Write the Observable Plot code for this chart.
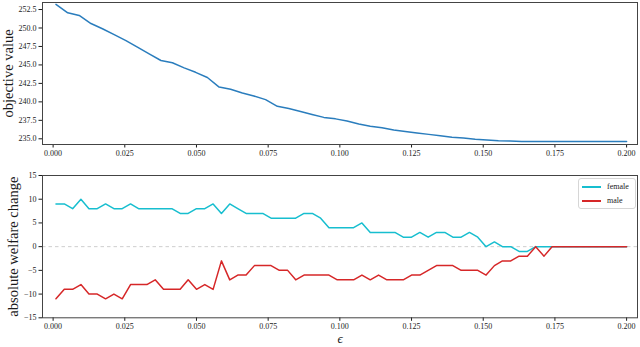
<!DOCTYPE html>
<html><head><meta charset="utf-8">
<script src="https://cdn.jsdelivr.net/npm/d3@7"></script>
<script src="https://cdn.jsdelivr.net/npm/@observablehq/plot@0.6"></script>
<style>
body{margin:0;background:#fff}
#chart{position:relative;width:640px;height:347px;font-family:"Liberation Serif",serif;overflow:hidden}
#chart svg{display:block}
#chart svg text{font-family:"Liberation Serif",serif;fill:#1a1a1a}
g[aria-label="y-axis label"] text{font-size:14.5px;fill:#111}
g[aria-label="x-axis label"] text{font-size:13px;font-style:italic;fill:#111}
.legend{position:absolute;left:578px;top:178px;width:58px;height:31px;border:1px solid #d6d6d6;border-radius:3px;background:#fff;box-sizing:border-box;font-size:8px;color:#1a1a1a}
.legend .item{position:absolute;left:3px;height:10px;line-height:10px;white-space:nowrap}
.legend .sw{display:inline-block;width:19px;height:1.6px;vertical-align:middle;margin-right:6px}
</style></head>
<body><div id="chart"></div>
<script>
// top panel: objective value vs epsilon
const epsTop = [0.0010,0.0051,0.0091,0.0132,0.0172,0.0213,0.0254,0.0294,0.0335,0.0376,0.0416,0.0457,0.0497,0.0538,0.0579,0.0619,0.0660,0.0700,0.0741,0.0782,0.0822,0.0863,0.0903,0.0944,0.0985,0.1025,0.1066,0.1106,0.1147,0.1188,0.1228,0.1269,0.1310,0.1350,0.1391,0.1431,0.1472,0.1513,0.1553,0.1594,0.1634,0.1675,0.1716,0.1756,0.1797,0.1837,0.1878,0.1919,0.1959,0.2000];
const objective = [253.2,252.05,251.7,250.6,249.9,249.1,248.3,247.4,246.5,245.6,245.3,244.6,244.0,243.3,242.0,241.7,241.2,240.8,240.3,239.4,239.1,238.7,238.3,237.9,237.7,237.4,237.0,236.7,236.5,236.2,236.0,235.8,235.6,235.4,235.2,235.1,234.95,234.85,234.75,234.7,234.65,234.65,234.65,234.65,234.65,234.65,234.65,234.65,234.65,234.65];
// bottom panel: absolute welfare change
const epsBottom = [0.0010,0.0039,0.0068,0.0097,0.0125,0.0154,0.0183,0.0212,0.0241,0.0270,0.0298,0.0327,0.0356,0.0385,0.0414,0.0443,0.0471,0.0500,0.0529,0.0558,0.0587,0.0616,0.0644,0.0673,0.0702,0.0731,0.0760,0.0789,0.0818,0.0846,0.0875,0.0904,0.0933,0.0962,0.0991,0.1019,0.1048,0.1077,0.1106,0.1135,0.1164,0.1192,0.1221,0.1250,0.1279,0.1308,0.1337,0.1366,0.1394,0.1423,0.1452,0.1481,0.1510,0.1539,0.1567,0.1596,0.1625,0.1654,0.1683,0.1712,0.1740,0.1769,0.1798,0.1827,0.1856,0.1885,0.1913,0.1942,0.1971,0.2000];
const female = [9,9,8,10,8,8,9,8,8,9,8,8,8,8,8,7,7,8,8,9,7,9,8,7,7,7,6,6,6,6,7,7,6,4,4,4,4,5,3,3,3,3,2,2,3,2,3,3,2,2,3,2,0,1,0,0,-1,-1,0,0,0,0,0,0,0,0,0,0,0,0];
const male = [-11,-9,-9,-8,-10,-10,-11,-10,-11,-8,-8,-8,-7,-9,-9,-9,-7,-9,-8,-9,-3,-7,-6,-6,-4,-4,-4,-5,-5,-7,-6,-6,-6,-6,-7,-7,-7,-6,-7,-6,-7,-7,-7,-6,-6,-5,-4,-4,-4,-5,-5,-5,-6,-4,-3,-3,-2,-2,0,-2,0,0,0,0,0,0,0,0,0,0];
const xTicks = [0,0.025,0.05,0.075,0.1,0.125,0.15,0.175,0.2];
const yTopTicks = [235,237.5,240,242.5,245,247.5,250,252.5];
const yBottomTicks = [-15,-10,-5,0,5,10,15];
const seriesNames = ["female","male"];
const seriesColors = ["#17becf","#d62728"];

const topData = epsTop.map((e,i)=>({eps:e, value:objective[i]}));
const bottomData = [
  ...epsBottom.map((e,i)=>({eps:e, v:female[i], s:"female"})),
  ...epsBottom.map((e,i)=>({eps:e, v:male[i], s:"male"}))
];

const common = {
  width:640, marginLeft:42, marginRight:3,
  style:{fontFamily:"Liberation Serif, serif", fontSize:"8px", background:"transparent", color:"#1a1a1a"}
};
const xDomain = [-0.0037, 0.2038];

const topPlot = Plot.plot({
  ...common, height:160, marginTop:2, marginBottom:16,
  x:{domain:xDomain},
  y:{domain:[234.23,253.45]},
  marks:[
    Plot.axisX({ticks:xTicks, tickFormat:d3.format(".3f"), tickSize:3.5, tickPadding:2.5, label:null}),
    Plot.axisY({ticks:yTopTicks, tickFormat:d3.format(".1f"), tickSize:3.5, tickPadding:2.5, label:"objective value", labelAnchor:"center", labelArrow:"none", labelOffset:40}),
    Plot.line(topData, {x:"eps", y:"value", stroke:"#2a7dbd", strokeWidth:1.5}),
    Plot.frame({stroke:"#444", strokeWidth:1})
  ]
});

const bottomPlot = Plot.plot({
  ...common, height:187, marginTop:15, marginBottom:29.7,
  x:{domain:xDomain},
  y:{domain:[-15,15]},
  color:{domain:seriesNames, range:seriesColors},
  marks:[
    Plot.axisX({ticks:xTicks, tickFormat:d3.format(".3f"), tickSize:3.5, tickPadding:2.5, label:"ϵ", labelAnchor:"center", labelArrow:"none", labelOffset:25}),
    Plot.axisY({ticks:yBottomTicks, tickFormat:d3.format("d"), tickSize:3.5, tickPadding:2.5, label:"absolute welfare change", labelAnchor:"center", labelArrow:"none", labelOffset:35}),
    Plot.ruleY([0], {stroke:"#cfcfcf", strokeWidth:1, strokeDasharray:"3.5,3"}),
    Plot.line(bottomData, {x:"eps", y:"v", z:"s", stroke:"s", strokeWidth:1.5}),
    Plot.frame({stroke:"#444", strokeWidth:1})
  ]
});

const chart = document.getElementById("chart");
chart.append(topPlot, bottomPlot);
const legend = document.createElement("div");
legend.className = "legend";
seriesNames.forEach((n,i)=>{
  const it = document.createElement("div");
  it.className = "item";
  it.style.top = (3 + i*14) + "px";
  const sw = document.createElement("span");
  sw.className = "sw";
  sw.style.background = seriesColors[i];
  it.append(sw, document.createTextNode(n));
  legend.append(it);
});
chart.append(legend);
</script></body></html>
